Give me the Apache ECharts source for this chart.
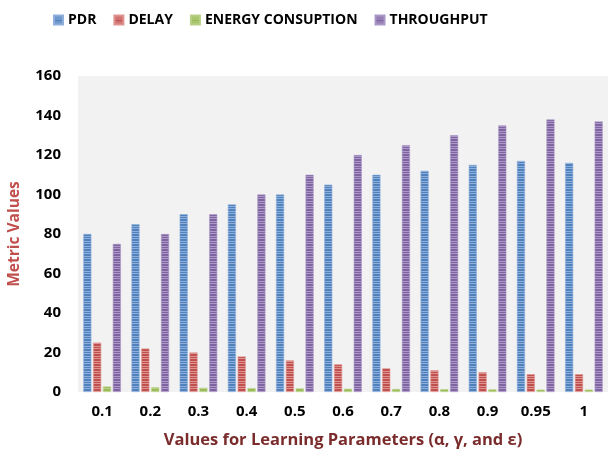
<!DOCTYPE html>
<html>
<head>
<meta charset="utf-8">
<script src="https://cdn.jsdelivr.net/npm/echarts@6/dist/echarts.min.js"></script>
<style>
  html, body { margin: 0; padding: 0; background: #ffffff; }
  #chart { width: 609px; height: 450px; }
</style>
</head>
<body>
<div id="chart"></div>
<script>
// Learning-parameter values on the x axis
const params = ['0.1', '0.2', '0.3', '0.4', '0.5', '0.6', '0.7', '0.8', '0.9', '0.95', '1'];

// Metric values per parameter setting
const pdr = [80, 85, 90, 95, 100, 105, 110, 112, 115, 117, 116];
const delay = [25, 22, 20, 18, 16, 14, 12, 11, 10, 9, 9];
const energy = [2.8, 2.4, 2.1, 2.0, 1.8, 1.6, 1.5, 1.4, 1.3, 1.2, 1.2];
const throughput = [75, 80, 90, 100, 110, 120, 125, 130, 135, 138, 137];

const yTicks = [0, 20, 40, 60, 80, 100, 120, 140, 160];

// Horizontal striped fill for the bars
function stripes(dark, light) {
  const c = document.createElement('canvas');
  c.width = 4; c.height = 5;
  const g = c.getContext('2d');
  g.fillStyle = dark; g.fillRect(0, 0, 4, 5);
  g.fillStyle = light; g.fillRect(0, 1, 4, 1); g.fillRect(0, 3, 4, 1);
  return { image: c, repeat: 'repeat' };
}

const palette = [
  { name: 'PDR', data: pdr, dark: '#4f81bd', light: '#8eaedb' },
  { name: 'DELAY', data: delay, dark: '#c0504d', light: '#de9391' },
  { name: 'ENERGY CONSUPTION', data: energy, dark: '#9bbb59', light: '#b7d083' },
  { name: 'THROUGHPUT', data: throughput, dark: '#8064a2', light: '#ab98c6' }
];

const chart = echarts.init(document.getElementById('chart'));
chart.setOption({
  animation: false,
  color: palette.map(p => p.dark),
  legend: {
    top: 8,
    left: 48,
    itemWidth: 9,
    itemHeight: 9,
    itemGap: 17,
    icon: 'rect',
    textStyle: { fontFamily: 'Open Sans', fontWeight: 'bold', fontSize: 14, color: '#000' },
    data: palette.map(p => ({ name: p.name, itemStyle: { color: stripes(p.dark, p.light) } }))
  },
  grid: {
    left: 78, right: 1, top: 76, bottom: 58,
    outerBoundsMode: 'none',
    containLabel: false,
    show: true, backgroundColor: '#f2f2f2', borderWidth: 0
  },
  xAxis: {
    type: 'category',
    data: params,
    name: 'Values for Learning Parameters (α, γ, and ε)',
    nameLocation: 'middle',
    nameGap: 40,
    nameTextStyle: { fontFamily: 'Open Sans', fontWeight: 'bold', fontSize: 16.5, color: '#7a2b2b' },
    axisLine: { show: false },
    axisTick: { show: false },
    axisLabel: { fontFamily: 'Open Sans', fontWeight: 'bold', fontSize: 15, color: '#000', margin: 12 }
  },
  yAxis: {
    type: 'value',
    min: yTicks[0],
    max: yTicks[yTicks.length - 1],
    interval: 20,
    name: 'Metric Values',
    nameLocation: 'middle',
    nameGap: 55,
    nameTextStyle: { fontFamily: 'Open Sans', fontWeight: 'bold', fontSize: 15.5, color: '#c0504d' },
    axisLine: { show: false },
    axisTick: { show: false },
    splitLine: { show: false },
    axisLabel: { fontFamily: 'Open Sans', fontWeight: 'bold', fontSize: 15, color: '#000', margin: 17 }
  },
  series: palette.map(p => ({
    name: p.name,
    type: 'bar',
    data: p.data,
    barGap: '22%',
    barCategoryGap: '22%',
    itemStyle: { color: stripes(p.dark, p.light), borderColor: p.light, borderWidth: 0.6 }
  }))
});
</script>
</body>
</html>
